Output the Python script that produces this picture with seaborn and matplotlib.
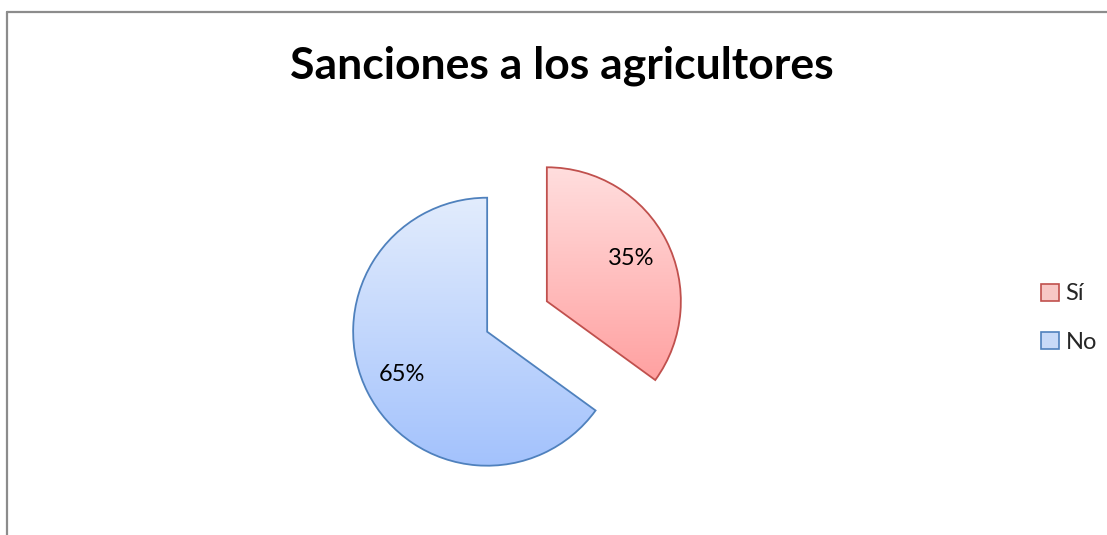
import numpy as np
import matplotlib
matplotlib.use("Agg")
import matplotlib.pyplot as plt
import seaborn as sns
from matplotlib.colors import LinearSegmentedColormap
from matplotlib.lines import Line2D

# ---- data ----
categories = ["Sí", "No"]
values = [35, 65]
title = "Sanciones a los agricultores"

# ---- style ----
edge_colors = ["#C0504D", "#4F81BD"]
grad_top = ["#FFDEDE", "#E2ECFD"]
grad_bottom = ["#FFA1A1", "#A3C2FC"]
legend_face = ["#F8C8C6", "#C8DAF8"]

sns.set_theme(style="white")
plt.rcParams["font.family"] = ["Lato", "DejaVu Sans"]

W, H = 1107, 535
fig = plt.figure(figsize=(W / 100, H / 100), dpi=100)
ax = fig.add_axes([0, 0, 1, 1])

R = 134
center = (517, H - 316.5)
expl = 33.5

wedges, texts, autotexts = ax.pie(
    values, labels=None, startangle=90, counterclock=False,
    explode=[expl, expl], radius=R, center=center,
    autopct="%1.0f%%", pctdistance=0.71,
    wedgeprops=dict(facecolor="none", edgecolor="none"),
    textprops=dict(fontsize=17, color="black"),
)
ax.set_aspect("auto")
ax.set_xlim(0, W)
ax.set_ylim(0, H)
ax.axis("off")

for i, w in enumerate(wedges):
    bb = w.get_path().get_extents()
    cmap = LinearSegmentedColormap.from_list("g%d" % i, [grad_bottom[i], grad_top[i]])
    grad = np.linspace(0, 1, 256).reshape(-1, 1)
    im = ax.imshow(grad, cmap=cmap, origin="lower", aspect="auto",
                   extent=(bb.x0, bb.x1, bb.y0, bb.y1), zorder=1,
                   interpolation="bilinear")
    im.set_clip_path(w)
    w.set_edgecolor(edge_colors[i])
    w.set_linewidth(1.3)
    w.set_zorder(2)
for t in autotexts:
    t.set_zorder(3)

# chart frame (partially visible)
ax.add_line(Line2D([7, 7], [0, H - 12], color="#8C8C8C", lw=1.6, transform=ax.transData))
ax.add_line(Line2D([7, W], [H - 12, H - 12], color="#8C8C8C", lw=1.6, transform=ax.transData))

ax.text(562, H - 66, title, ha="center", va="center", fontsize=32,
        fontweight="bold", color="black")

handles = [plt.Rectangle((0, 0), 1, 1, facecolor=legend_face[i],
                         edgecolor=edge_colors[i], lw=1.2) for i in range(2)]
leg = ax.legend(handles, categories, loc="center left",
                bbox_to_anchor=(1029 / W, 1 - 318 / H), frameon=False,
                fontsize=17, handlelength=0.75, handleheight=0.75,
                handletextpad=0.3, labelspacing=1.15, borderpad=0)

fig.savefig("out.png", dpi=100, facecolor="white")
